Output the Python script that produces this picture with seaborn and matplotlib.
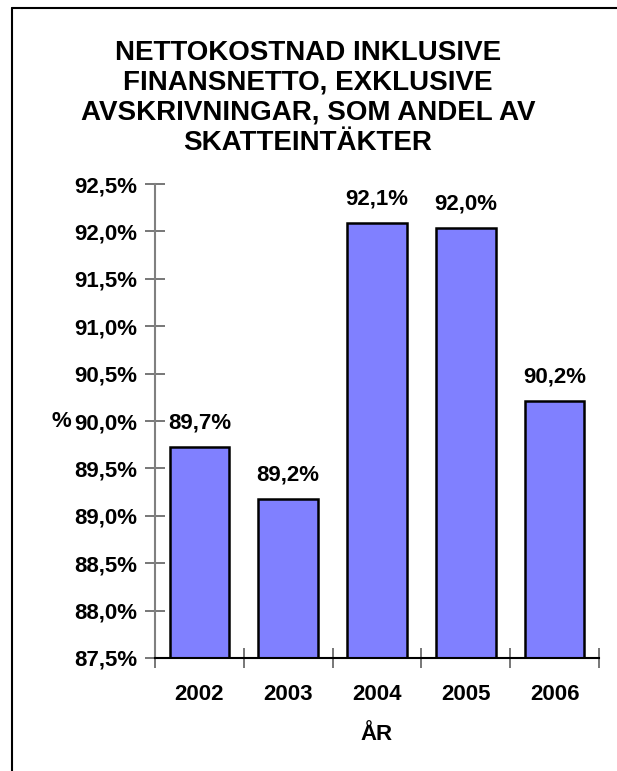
import matplotlib
matplotlib.use("Agg")
import matplotlib.pyplot as plt
import seaborn as sns
from matplotlib.lines import Line2D
from matplotlib.ticker import FuncFormatter, FixedLocator

# Data
years = ["2002", "2003", "2004", "2005", "2006"]
values = [89.73, 89.18, 92.09, 92.04, 90.21]
value_labels = ["89,7%", "89,2%", "92,1%", "92,0%", "90,2%"]
y_ticks = [87.5, 88.0, 88.5, 89.0, 89.5, 90.0, 90.5, 91.0, 91.5, 92.0, 92.5]

sns.set_style("white")
plt.rcParams['font.family'] = ['Liberation Sans', 'DejaVu Sans']
plt.rcParams['font.weight'] = 'bold'
plt.rcParams['text.color'] = 'black'
plt.rcParams['axes.labelcolor'] = 'black'
plt.rcParams['xtick.labelcolor'] = 'black'
plt.rcParams['ytick.labelcolor'] = 'black'

fig = plt.figure(figsize=(6.17, 7.71), dpi=100)
ax = fig.add_axes([0.2512, 0.1466, 0.9708 - 0.2512, 0.7613 - 0.1466])

sns.barplot(x=years, y=values, color="#8080FF", saturation=1, width=0.67,
            edgecolor="black", linewidth=1.8, ax=ax)

ax.set_ylim(87.5, 92.5)
ax.set_xlim(-0.5, 4.5)
ax.set_yticks(y_ticks)
ax.yaxis.set_major_formatter(FuncFormatter(lambda v, p: f"{v:.1f}%".replace(".", ",")))

# bar value labels
for i, (v, lab) in enumerate(zip(values, value_labels)):
    ax.annotate(lab, (i, v), xytext=(0, 17), textcoords="offset points",
                ha="center", va="center", fontsize=16, fontweight="bold")

# axes styling
for s in ["top", "right"]:
    ax.spines[s].set_visible(False)
ax.spines["left"].set_color("#808080")
ax.spines["left"].set_linewidth(1.5)
ax.spines["bottom"].set_color("black")
ax.spines["bottom"].set_linewidth(1.5)

ax.tick_params(axis="y", direction="inout", length=14, width=1.2, color="#606060",
               labelsize=16, pad=6, left=True)
ax.tick_params(axis="x", which="major", length=0, labelsize=16, pad=18.5)
ax.xaxis.set_minor_locator(FixedLocator([-0.5, 0.5, 1.5, 2.5, 3.5, 4.5]))
ax.tick_params(axis="x", which="minor", direction="inout", length=14, width=1.2,
               color="#606060", bottom=True)
for t in ax.get_xticklabels() + ax.get_yticklabels():
    t.set_fontweight("bold")

ax.set_xlabel("ÅR", fontsize=16, fontweight="bold", labelpad=14)
ax.set_ylabel("%", fontsize=16, fontweight="bold", rotation=0, va="center", ha="center")
ax.yaxis.set_label_coords(-0.21, 0.5)

fig.text(0.499, 0.873, "NETTOKOSTNAD INKLUSIVE\nFINANSNETTO, EXKLUSIVE\n"
         "AVSKRIVNINGAR, SOM ANDEL AV\nSKATTEINTÄKTER",
         ha="center", va="center", fontsize=20, fontweight="bold", linespacing=1.2)

# outer border (left and top)
fig.add_artist(Line2D([12 / 617, 12 / 617], [0, 1 - 8 / 771], color="black", lw=1.5,
                      transform=fig.transFigure))
fig.add_artist(Line2D([12 / 617, 1], [1 - 8 / 771, 1 - 8 / 771], color="black", lw=1.5,
                      transform=fig.transFigure))

fig.savefig("out.png", dpi=100)
